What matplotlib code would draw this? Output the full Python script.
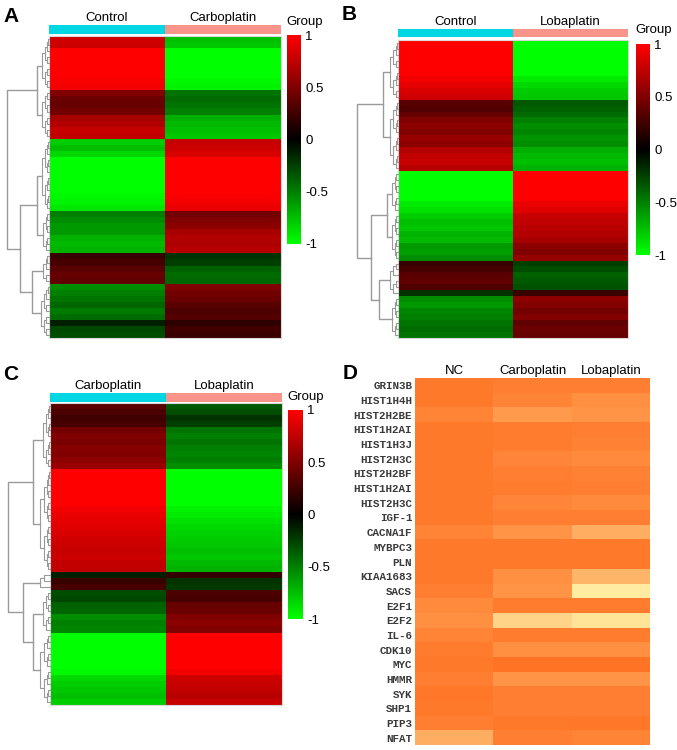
import numpy as np
import matplotlib
matplotlib.use("Agg")
import matplotlib.pyplot as plt
from matplotlib.colors import LinearSegmentedColormap

# ---- datos ----
# panel A: Control vs Carboplatin
a_groups = ["Control", "Carboplatin"]
a_control = [0.82, 0.80,
             1.0, 1.0, 1.0, 1.0, 1.0, 0.97, 0.95,
             0.5, 0.42, 0.4, 0.45,
             0.65, 0.7, 0.78, 0.75,
             -0.8, -0.75, -0.85,
             -1, -1, -1, -1, -1, -1, -0.97, -0.95, -0.9,
             -0.5, -0.55, -0.6,
             -0.6, -0.7, -0.72, -0.7,
             0.22, 0.28,
             0.35, 0.4, 0.38,
             -0.55, -0.5, -0.45,
             -0.4, -0.48, -0.42,
             -0.12,
             -0.28, -0.3]
a_carbo = [-0.75, -0.78,
           -1, -1, -1, -1, -1, -0.97, -0.95,
           -0.45, -0.42, -0.45, -0.5,
           -0.68, -0.72, -0.75, -0.78,
           0.78, 0.8, 0.85,
           1, 1, 1, 1, 1, 1, 0.98, 0.95, 0.92,
           0.45, 0.5, 0.55,
           0.65, 0.7, 0.68, 0.72,
           -0.2, -0.25,
           -0.38, -0.42, -0.4,
           0.5, 0.45, 0.42,
           0.35, 0.3, 0.33,
           0.18,
           0.25, 0.22]

# panel B: Control vs Lobaplatin
b_groups = ["Control", "Lobaplatin"]
b_control = [1, 1, 1, 1, 1, 1,
             0.95, 0.9, 0.85, 0.82,
             0.35, 0.32, 0.4,
             0.5, 0.55, 0.5, 0.6, 0.55,
             0.7, 0.75, 0.78, 0.72,
             -1, -1, -1, -1, -1,
             -0.92, -0.88,
             -0.8, -0.75, -0.78, -0.7, -0.72,
             -0.6, -0.62, -0.55,
             0.22, 0.28,
             0.35, 0.38, 0.32,
             -0.2,
             -0.55, -0.6, -0.52, -0.5,
             -0.45, -0.42, -0.45]
b_loba = [-1, -1, -1, -1, -1, -1,
          -0.92, -0.85, -0.8, -0.78,
          -0.35, -0.38, -0.42,
          -0.5, -0.55, -0.52, -0.58, -0.55,
          -0.68, -0.72, -0.75, -0.7,
          1, 1, 1, 1, 1,
          0.92, 0.88,
          0.78, 0.75, 0.72, 0.7, 0.65,
          0.55, 0.5, 0.58,
          -0.25, -0.3,
          -0.38, -0.35, -0.32,
          0.22,
          0.55, 0.5, 0.45, 0.5,
          0.38, 0.42, 0.4]

# panel C: Carboplatin vs Lobaplatin
c_groups = ["Carboplatin", "Lobaplatin"]
c_carbo = [0.35, 0.3, 0.25, 0.28,
           0.45, 0.5, 0.48, 0.52, 0.5, 0.55, 0.6,
           1, 1, 1, 1, 1, 1,
           0.95, 0.92, 0.9, 0.88, 0.85, 0.82, 0.8, 0.78, 0.8, 0.76, 0.75,
           -0.12,
           0.22, 0.28,
           -0.3, -0.28, -0.38, -0.4,
           -0.55, -0.5, -0.52,
           -1, -1, -1, -1, -1, -1, -0.97,
           -0.85, -0.8, -0.78, -0.75, -0.8]
c_loba = [-0.35, -0.3, -0.2, -0.25,
          -0.45, -0.5, -0.45, -0.5, -0.52, -0.5, -0.55,
          -1, -1, -1, -1, -1, -1,
          -0.95, -0.92, -0.88, -0.85, -0.82, -0.8, -0.78, -0.75, -0.78, -0.72, -0.7,
          0.2,
          -0.2, -0.22,
          0.3, 0.28, 0.4, 0.42,
          0.5, 0.55, 0.5,
          1, 1, 1, 1, 1, 1, 0.95,
          0.8, 0.78, 0.75, 0.72, 0.78]

# arboles (altura, izq, der); hojas = [fila_ini, fila_fin, altura]
a_tree = (1.0, (0.29, [0, 8, 0.17], [9, 16, 0.17]),
          (0.69, (0.29, [17, 28, 0.17], [29, 35, 0.15]),
           (0.4, [36, 40, 0.15], [41, 49, 0.2])))
b_tree = (1.0, (0.37, [0, 9, 0.2], [10, 21, 0.2]),
          (0.66, (0.27, [22, 28, 0.15], [29, 36, 0.15]),
           (0.46, [37, 42, 0.2], [43, 49, 0.15])))
c_tree = (1.0, (0.4, [0, 10, 0.17], [11, 27, 0.24]),
          (0.64, [28, 30, 0.25], (0.4, [31, 37, 0.17], [38, 49, 0.24])))

# panel D
d_cols = ["NC", "Carboplatin", "Lobaplatin"]
d_genes = ["GRIN3B", "HIST1H4H", "HIST2H2BE", "HIST1H2AI", "HIST1H3J", "HIST2H3C",
           "HIST2H2BF", "HIST1H2AI", "HIST2H3C", "IGF-1", "CACNA1F", "MYBPC3", "PLN",
           "KIAA1683", "SACS", "E2F1", "E2F2", "IL-6", "CDK10", "MYC", "HMMR", "SYK",
           "SHP1", "PIP3", "NFAT"]
d_nc = [0.1, 0.1, 0.2, 0.1, 0.1, 0.1, 0.1, 0.1, 0.1, 0.1, 0.2, 0.1, 0.1,
        0.1, 0.15, 0.25, 0.3, 0.2, 0.12, 0.1, 0.15, 0.08, 0.1, 0.15, 0.55]
d_carbo = [0.15, 0.2, 0.4, 0.12, 0.12, 0.22, 0.15, 0.12, 0.22, 0.15, 0.35, 0.1, 0.1,
           0.3, 0.35, 0.12, 0.8, 0.12, 0.3, 0.05, 0.35, 0.15, 0.15, 0.1, 0.15]
d_loba = [0.15, 0.3, 0.35, 0.15, 0.18, 0.25, 0.18, 0.15, 0.25, 0.15, 0.55, 0.1, 0.1,
          0.6, 0.95, 0.12, 0.9, 0.12, 0.3, 0.05, 0.35, 0.15, 0.15, 0.08, 0.2]

# ---- estilos ----
W, H = 677, 750
cmap_rg = LinearSegmentedColormap.from_list("rg", ["#00FF00", "#000000", "#FF0000"])
cmap_or = LinearSegmentedColormap.from_list("or", ["#FF6E20", "#FFA558", "#FFF3A8"])
grp_cols = ["#00D7E3", "#F9948A"]
plt.rcParams['font.family'] = ['Liberation Sans', 'DejaVu Sans']

fig = plt.figure(figsize=(W / 100, H / 100), dpi=100)


def px_ax(x0, y0, x1, y1):
    # ejes en coordenadas de pixel (origen arriba-izq)
    return fig.add_axes([x0 / W, 1 - y1 / H, (x1 - x0) / W, (y1 - y0) / H])


def comb(ax, s, e, h):
    if s == e:
        return s + 0.5, 0.0
    m = (s + e) // 2
    yl, hl = comb(ax, s, m, h * 0.55)
    yr, hr = comb(ax, m + 1, e, h * 0.55)
    ax.plot([hl, h, h, hr], [yl, yl, yr, yr], color="#9a9a9a", lw=0.8, clip_on=False)
    return (yl + yr) / 2, h


def draw_tree(ax, node):
    if isinstance(node, list):
        return comb(ax, node[0], node[1], node[2])
    h, left, right = node
    yl, hl = draw_tree(ax, left)
    yr, hr = draw_tree(ax, right)
    ax.plot([hl, h, h, hr], [yl, yl, yr, yr], color="#9a9a9a", lw=1.0, clip_on=False)
    return (yl + yr) / 2, h


def heat_panel(col1, col2, groups, tree, hm, bar, den, cb, grp_xy, letter):
    data = np.column_stack([col1, col2])
    n = data.shape[0]
    ax = px_ax(*hm)
    mesh = ax.pcolormesh(np.arange(3), np.arange(n + 1), data, cmap=cmap_rg, vmin=-1, vmax=1)
    ax.set_ylim(n, 0)
    ax.set_xticks([])
    ax.set_yticks([])
    for s in ax.spines.values():
        s.set_color("#d8d8d8")
        s.set_linewidth(0.8)

    axb = px_ax(*bar)
    axb.pcolormesh(np.arange(3), [0, 1], np.array([[0, 1]]),
                   cmap=LinearSegmentedColormap.from_list("g", grp_cols, N=2))
    axb.set_xticks([0.5, 1.5])
    axb.set_xticklabels(groups, fontsize=9.5)
    axb.xaxis.tick_top()
    axb.tick_params(length=0, pad=1)
    axb.set_yticks([])
    for s in axb.spines.values():
        s.set_visible(False)

    axd = px_ax(*den)
    draw_tree(axd, tree)
    axd.set_xlim(1.0, 0)
    axd.set_ylim(n, 0)
    axd.axis("off")

    axc = px_ax(*cb)
    cbar = fig.colorbar(mesh, cax=axc, ticks=[1, 0.5, 0, -0.5, -1])
    cbar.ax.set_yticklabels(["1", "0.5", "0", "-0.5", "-1"])
    cbar.ax.tick_params(length=0, labelsize=9.5, pad=3)
    cbar.outline.set_visible(False)

    fig.text(grp_xy[0] / W, 1 - grp_xy[1] / H, "Group", fontsize=9.5, ha="center", va="center")
    fig.text(letter[1] / W, 1 - letter[2] / H, letter[0], fontsize=15, fontweight="bold",
             ha="left", va="center")


heat_panel(a_control, a_carbo, a_groups, a_tree,
           (49, 36, 281, 338), (49, 25, 281, 34), (7, 36, 49, 338), (287, 35, 301, 244),
           (305, 22), ("A", 3, 16))
heat_panel(b_control, b_loba, b_groups, b_tree,
           (398, 40, 628, 338), (398, 29, 628, 37), (357, 40, 398, 338), (636, 44, 650, 255),
           (654, 30), ("B", 342, 14))
heat_panel(c_carbo, c_loba, c_groups, c_tree,
           (50, 403, 282, 705), (50, 393, 282, 402), (8, 403, 50, 705), (288, 410, 303, 619),
           (306, 397), ("C", 3, 375))

# panel D
axD = px_ax(415, 378, 650, 745)
dmat = np.column_stack([d_nc, d_carbo, d_loba])
axD.pcolormesh(np.arange(4), np.arange(len(d_genes) + 1), dmat, cmap=cmap_or, vmin=0, vmax=1)
axD.set_ylim(len(d_genes), 0)
axD.set_xticks(np.arange(3) + 0.5)
axD.set_xticklabels(d_cols, fontsize=9.5)
axD.xaxis.tick_top()
axD.set_yticks(np.arange(len(d_genes)) + 0.5)
axD.set_yticklabels(d_genes, fontsize=7.8, family="Liberation Mono", fontweight="bold",
                    color="#3a3a3a")
axD.tick_params(length=0, pad=2)
axD.tick_params(axis="x", pad=1)
for s in axD.spines.values():
    s.set_visible(False)
fig.text(343 / W, 1 - 374 / H, "D", fontsize=15, fontweight="bold", ha="left", va="center")

fig.savefig("out.png", dpi=100, facecolor="white")
